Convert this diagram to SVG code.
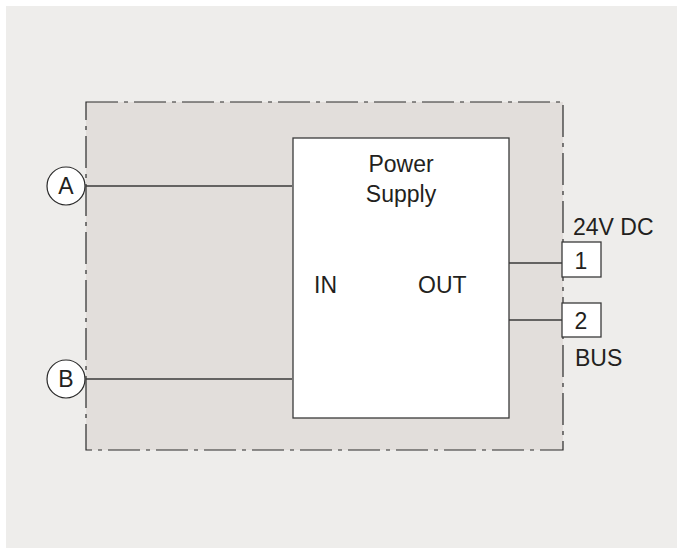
<svg xmlns="http://www.w3.org/2000/svg" width="677" height="554" viewBox="0 0 677 554">
<style>
text{font-family:"Liberation Sans",Arial,sans-serif;font-size:23px;fill:#231f20}
.ln{stroke:#3a3a3a;stroke-width:1.3;fill:none}
.bx{fill:#fff;stroke:#3a3a3a;stroke-width:1.3}
</style>
<rect x="0" y="0" width="677" height="554" fill="#fff"/>
<rect x="6" y="6" width="671" height="542" fill="#eeedeb"/>
<g id="enclosure">
<rect x="86" y="102" width="477" height="348" fill="#e2dedb" stroke="#2a2a2a" stroke-width="1.2" stroke-dasharray="32 6 4 6"/>
</g>
<g id="connectors">
<line class="ln" x1="86" y1="186" x2="292" y2="186"/>
<line class="ln" x1="86" y1="379" x2="292" y2="379"/>
<line class="ln" x1="509" y1="263" x2="562" y2="263"/>
<line class="ln" x1="509" y1="320" x2="562" y2="320"/>
</g>
<g id="power-supply">
<rect class="bx" x="293" y="138" width="216" height="280"/>
<text x="401" y="172" text-anchor="middle">Power</text>
<text x="401" y="202" text-anchor="middle">Supply</text>
<text x="314" y="293">IN</text>
<text x="418" y="293">OUT</text>
</g>
<g id="node-A">
<circle cx="66" cy="186" r="19" fill="#fff" stroke="#2a2a2a" stroke-width="1.2"/>
<text x="66" y="194" text-anchor="middle">A</text>
</g>
<g id="node-B">
<circle cx="66" cy="379" r="19" fill="#fff" stroke="#2a2a2a" stroke-width="1.2"/>
<text x="66" y="387" text-anchor="middle">B</text>
</g>
<g id="terminal-1">
<rect class="bx" x="562" y="242" width="39" height="35"/>
<text x="581" y="269" text-anchor="middle">1</text>
</g>
<g id="terminal-2">
<rect class="bx" x="562" y="303" width="39" height="34"/>
<text x="581" y="329" text-anchor="middle">2</text>
</g>
<text x="573" y="235">24V DC</text>
<text x="575" y="366">BUS</text>
</svg>
